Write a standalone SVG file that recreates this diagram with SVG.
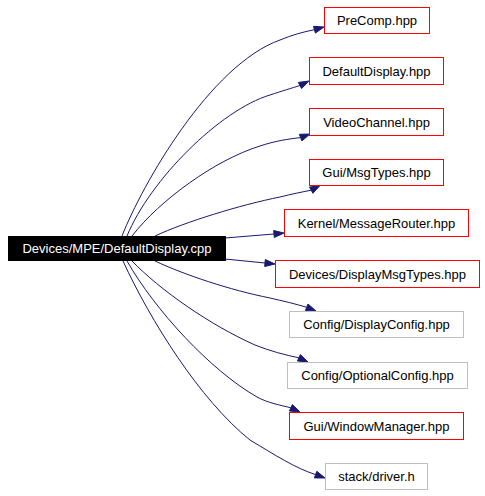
<svg xmlns="http://www.w3.org/2000/svg" width="485" height="496" viewBox="0 0 485 496">
<style>
.n rect{fill:#ffffff;stroke-width:1}
.red rect{stroke:#ff0000}
.gray rect{stroke:#bfbfbf}
text{font-family:"Liberation Sans",Arial,sans-serif;font-size:13px;text-anchor:middle;fill:#000000}
.main rect{fill:#000000;stroke:#000000}
.main text{fill:#ffffff}
.e path{fill:none;stroke:#191970;stroke-width:1}
.e polygon{fill:#191970;stroke:#191970;stroke-width:1}
</style>
<rect width="485" height="496" fill="#ffffff"/>
<g id="edges" class="e">
<path d="M122,236 C142,185 210,65 280,40 C292,35 303,32 314.4,29.7"/>
<polygon points="324,27 315.4,33.1 313.5,26.3"/>
<path d="M127,236 C150,180 220,110 270,95 C282,91 292,88 300,85.5"/>
<polygon points="309,81 301.6,88.6 298.4,82.4"/>
<path d="M132,236 C160,200 215,160 260,146 C275,141 288,139 300.7,137.6"/>
<polygon points="310,134 301.9,140.9 299.4,134.3"/>
<path d="M155,236 C185,222 240,205 280,197 C292,194 302,192 311.2,190.2"/>
<polygon points="320,185.5 312.9,193.3 309.5,187.1"/>
<path d="M225,238 L274,234"/>
<polygon points="284,233 274.3,237.5 273.7,230.5"/>
<path d="M225,259 L265,263"/>
<polygon points="275,264 264.7,266.5 265.3,259.5"/>
<path d="M155,261 C185,275 230,290 270,298 C283,301 296,304 306.7,307.3"/>
<polygon points="316,311 305.4,310.6 308,304"/>
<path d="M132,261 C160,290 210,325 255,345 C270,351 285,355 298.9,357.8"/>
<polygon points="308,362 297.4,361 300.4,354.6"/>
<path d="M127,261 C155,310 210,370 257,397 C268,403 280,405 290.9,407.8"/>
<polygon points="300,412 289.4,411 292.4,404.6"/>
<path d="M123,261 C150,320 200,400 250,440 C275,455 295,468 315.6,474.6"/>
<polygon points="325,478 314.4,477.9 316.8,471.3"/>
</g>
<g id="main" class="n main"><rect x="8.5" y="236.5" width="217" height="24"/><text x="117" y="253">Devices/MPE/DefaultDisplay.cpp</text></g>
<g id="precomp" class="n red"><rect x="324.5" y="7.5" width="105" height="26"/><text x="377" y="25">PreComp.hpp</text></g>
<g id="defaultdisplay" class="n red"><rect x="309.5" y="57.5" width="134" height="27"/><text x="376.5" y="75.5">DefaultDisplay.hpp</text></g>
<g id="videochannel" class="n red"><rect x="309.5" y="108.5" width="134" height="27"/><text x="376.5" y="126.5">VideoChannel.hpp</text></g>
<g id="msgtypes" class="n red"><rect x="309.5" y="159.5" width="134" height="26"/><text x="376.5" y="177">Gui/MsgTypes.hpp</text></g>
<g id="messagerouter" class="n red"><rect x="284.5" y="209.5" width="184" height="27"/><text x="376.5" y="227.5">Kernel/MessageRouter.hpp</text></g>
<g id="displaymsgtypes" class="n red"><rect x="275.5" y="260.5" width="204" height="27"/><text x="377.5" y="278.5">Devices/DisplayMsgTypes.hpp</text></g>
<g id="displayconfig" class="n gray"><rect x="289.5" y="311.5" width="174" height="26"/><text x="376.5" y="329">Config/DisplayConfig.hpp</text></g>
<g id="optionalconfig" class="n gray"><rect x="287.5" y="362.5" width="180" height="26"/><text x="377.5" y="380">Config/OptionalConfig.hpp</text></g>
<g id="windowmanager" class="n red"><rect x="289.5" y="412.5" width="174" height="27"/><text x="376.5" y="430.5">Gui/WindowManager.hpp</text></g>
<g id="driver" class="n gray"><rect x="325.5" y="463.5" width="102" height="26"/><text x="376.5" y="481">stack/driver.h</text></g>
</svg>
